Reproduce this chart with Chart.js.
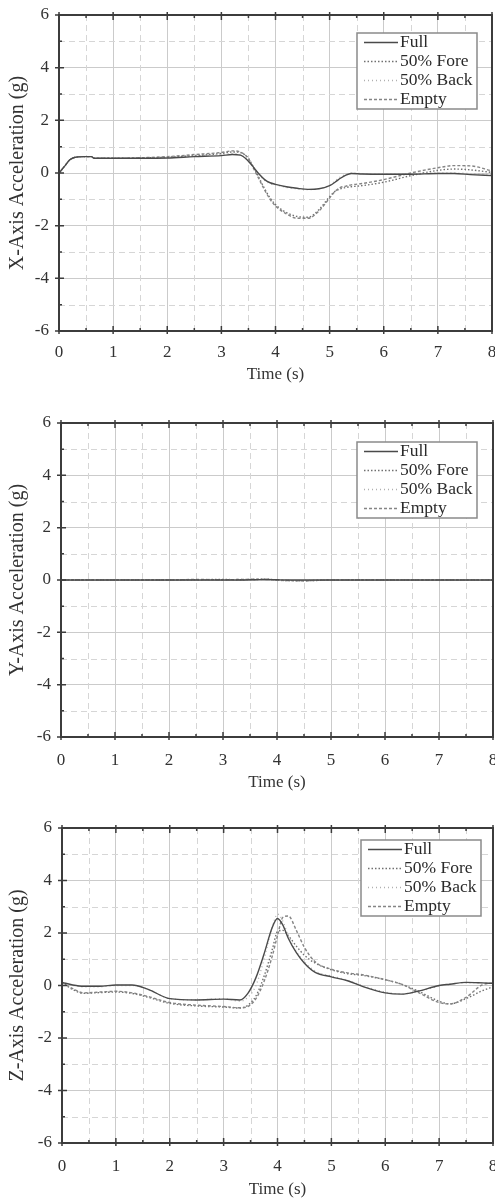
<!DOCTYPE html>
<html>
<head>
<meta charset="utf-8">
<script src="https://cdn.jsdelivr.net/npm/chart.js@4.4.0/dist/chart.umd.min.js"></script>
<style>
  body { margin: 0; background: #fff; width: 495px; height: 1201px; position: relative; overflow: hidden; }
  canvas { position: absolute; left: 0; }
</style>
</head>
<body>
<canvas id="chartX"></canvas>
<canvas id="chartY"></canvas>
<canvas id="chartZ"></canvas>
<script>
'use strict'

// ---- data ----
const seriesNames = ['Full', '50% Fore', '50% Back', 'Empty'];
const xTicks = [0, 1, 2, 3, 4, 5, 6, 7, 8];
const yTicks = [-6, -4, -2, 0, 2, 4, 6];

// X-axis acceleration
const timeX = [0, 0.1, 0.2, 0.3, 0.45, 0.6, 0.65, 1, 1.5, 2, 2.5, 3, 3.2, 3.35, 3.5, 3.6, 3.7, 3.8, 3.9, 4.0, 4.2, 4.4, 4.6, 4.8, 5.0, 5.1, 5.2, 5.3, 5.4, 5.6, 6, 6.5, 7, 7.3, 7.6, 8];
const xFull = [0, 0.25, 0.5, 0.6, 0.62, 0.62, 0.56, 0.56, 0.56, 0.57, 0.62, 0.66, 0.7, 0.68, 0.45, 0.2, -0.05, -0.25, -0.37, -0.43, -0.52, -0.58, -0.62, -0.6, -0.48, -0.35, -0.2, -0.08, -0.02, -0.04, -0.05, -0.05, -0.02, -0.02, -0.06, -0.1];
const xFore = [0, 0.25, 0.5, 0.6, 0.62, 0.62, 0.56, 0.56, 0.57, 0.6, 0.66, 0.74, 0.8, 0.78, 0.55, 0.2, -0.2, -0.6, -0.95, -1.2, -1.5, -1.65, -1.68, -1.4, -0.9, -0.7, -0.6, -0.55, -0.52, -0.48, -0.35, -0.1, 0.1, 0.15, 0.12, 0.02];
const xBack = [0, 0.25, 0.5, 0.6, 0.62, 0.62, 0.56, 0.56, 0.57, 0.58, 0.64, 0.7, 0.74, 0.7, 0.45, 0.18, -0.08, -0.28, -0.4, -0.45, -0.55, -0.6, -0.63, -0.6, -0.46, -0.3, -0.15, -0.05, 0, -0.02, -0.03, -0.02, 0, 0, -0.02, -0.05];
const xEmpty = [0, 0.25, 0.5, 0.6, 0.62, 0.62, 0.56, 0.56, 0.58, 0.62, 0.7, 0.78, 0.84, 0.8, 0.55, 0.15, -0.25, -0.65, -1.0, -1.25, -1.55, -1.72, -1.72, -1.45, -0.95, -0.7, -0.55, -0.5, -0.45, -0.4, -0.25, 0, 0.2, 0.28, 0.27, 0.08];

// Y-axis acceleration
const timeY = [0, 1, 2, 2.5, 3, 3.3, 3.6, 3.8, 4, 4.2, 4.5, 5, 6, 7, 8];
const yFull = [0, 0, 0, 0, 0, 0, 0.01, 0.02, 0.01, 0, 0, 0, 0, 0, 0];
const yFore = [0, 0, 0, 0.01, 0.02, 0.01, 0.02, 0.03, 0, -0.02, -0.03, 0, 0, 0, 0];
const yBack = [0, 0, 0, 0.01, 0.01, 0.02, 0.02, 0.01, -0.02, -0.03, -0.02, 0, 0, 0, 0];
const yEmpty = [0, 0, 0, 0.02, 0.01, 0.02, 0.03, 0.02, -0.01, -0.02, -0.03, 0, 0, 0, 0];

// Z-axis acceleration
const timeZ = [0, 0.2, 0.4, 0.7, 1, 1.3, 1.6, 2, 2.5, 3, 3.3, 3.45, 3.6, 3.75, 3.9, 4.0, 4.1, 4.2, 4.35, 4.5, 4.7, 5, 5.3, 5.6, 6, 6.3, 6.6, 7, 7.2, 7.5, 7.8, 8];
const zFull = [0.12, 0.02, -0.03, -0.03, 0.02, 0.02, -0.15, -0.5, -0.55, -0.52, -0.55, -0.3, 0.3, 1.2, 2.2, 2.55, 2.3, 1.8, 1.25, 0.85, 0.5, 0.33, 0.18, -0.05, -0.28, -0.33, -0.22, 0, 0.05, 0.12, 0.1, 0.08];
const zFore = [0.12, -0.15, -0.3, -0.27, -0.25, -0.3, -0.45, -0.68, -0.78, -0.82, -0.86, -0.75, -0.4, 0.35, 1.35, 2.05, 2.1, 1.9, 1.5, 1.15, 0.85, 0.6, 0.45, 0.38, 0.22, 0.05, -0.2, -0.6, -0.7, -0.5, -0.2, -0.05];
const zBack = [0.12, 0.0, -0.05, -0.05, 0.0, 0.0, -0.15, -0.5, -0.55, -0.5, -0.6, -0.45, 0.0, 1.0, 2.2, 2.72, 2.45, 1.9, 1.3, 0.9, 0.55, 0.36, 0.2, -0.02, -0.25, -0.32, -0.24, -0.02, 0.05, 0.1, 0.1, 0.08];
const zEmpty = [0.12, -0.12, -0.28, -0.25, -0.22, -0.28, -0.42, -0.65, -0.75, -0.8, -0.85, -0.8, -0.5, 0.15, 1.1, 1.9, 2.6, 2.65, 2.1, 1.45, 0.9, 0.62, 0.48, 0.4, 0.22, 0.05, -0.25, -0.65, -0.7, -0.45, 0.02, 0.1];

// ---- look ----
const FONT = 'Liberation Serif, Times New Roman, serif';
const lineStyles = [
    { color: '#4a4a4a', width: 1.4, dash: [] },
    { color: '#707070', width: 1.4, dash: [1.5, 2] },
    { color: '#b0b0b0', width: 1.3, dash: [1, 3] },
    { color: '#858585', width: 1.4, dash: [3, 2] },
];

// per-panel placement
const panels = [
    { id: 'chartX', title: 'X-Axis Acceleration (g)', top: 0, left: 59, right: 3, padTop: 15, plotH: 316, xh: 58, tickPad: 11, titlePad: 4, legTop: 18, legRight: 15, time: timeX, values: [xFull, xFore, xBack, xEmpty] },
    { id: 'chartY', title: 'Y-Axis Acceleration (g)', top: 408, left: 61, right: 2, padTop: 15, plotH: 314, xh: 58, tickPad: 13, titlePad: 2, legTop: 19, legRight: 16, time: timeY, values: [yFull, yFore, yBack, yEmpty] },
    { id: 'chartZ', title: 'Z-Axis Acceleration (g)', top: 813, left: 62, right: 2, padTop: 15, plotH: 315, xh: 58, tickPad: 13, titlePad: 1, legTop: 12, legRight: 12, time: timeZ, values: [zFull, zFore, zBack, zEmpty] },
];

const framePlugin = {
    id: 'frame',
    beforeDatasetsDraw(chart) {
        const ctx = chart.ctx;
        const a = chart.chartArea;
        const xs = chart.scales.x, ys = chart.scales.y;
        ctx.save();
        ctx.strokeStyle = '#d6d6d6';
        ctx.lineWidth = 1;
        ctx.setLineDash([6, 4]);
        for (let v = 0.5; v < 8; v += 1) {
            const px = Math.round(xs.getPixelForValue(v)) + 0.5;
            ctx.beginPath(); ctx.moveTo(px, a.top); ctx.lineTo(px, a.bottom); ctx.stroke();
        }
        for (let v = -5; v <= 5; v += 2) {
            const py = Math.round(ys.getPixelForValue(v)) + 0.5;
            ctx.beginPath(); ctx.moveTo(a.left, py); ctx.lineTo(a.right, py); ctx.stroke();
        }
        ctx.restore();
    },
    afterDraw(chart, args, opts) {
        const ctx = chart.ctx;
        const a = chart.chartArea;
        const xs = chart.scales.x, ys = chart.scales.y;
        ctx.save();
        // frame
        ctx.strokeStyle = '#3c3c3c';
        ctx.lineWidth = 2;
        ctx.strokeRect(a.left, a.top, a.right - a.left, a.bottom - a.top);
        // tick marks
        ctx.lineWidth = 1.5;
        ctx.beginPath();
        for (let v = 0; v <= 8; v += 0.5) {
            const px = xs.getPixelForValue(v);
            const major = v % 1 === 0;
            ctx.moveTo(px, a.bottom + (major ? 3 : 0)); ctx.lineTo(px, a.bottom - (major ? 5 : 3));
            ctx.moveTo(px, a.top - (major ? 3 : 0)); ctx.lineTo(px, a.top + (major ? 5 : 3));
        }
        for (let v = -6; v <= 6; v += 1) {
            const py = ys.getPixelForValue(v);
            const major = v % 2 === 0;
            ctx.moveTo(a.left - (major ? 4 : 0), py); ctx.lineTo(a.left + (major ? 5 : 3), py);
        }
        ctx.stroke();

        // legend box
        const w = 120, h = 76;
        const bx = a.right - opts.legRight - w;
        const by = a.top + opts.legTop;
        ctx.fillStyle = '#fff';
        ctx.fillRect(bx, by, w, h);
        ctx.strokeStyle = '#8a8a8a';
        ctx.lineWidth = 1.5;
        ctx.strokeRect(bx, by, w, h);
        ctx.font = '17.5px ' + FONT;
        ctx.textBaseline = 'middle';
        ctx.textAlign = 'left';
        chart.data.datasets.forEach((ds, i) => {
            const ry = by + 9.5 + i * 19;
            ctx.strokeStyle = ds.borderColor;
            ctx.lineWidth = ds.borderWidth;
            ctx.setLineDash(ds.borderDash);
            ctx.beginPath(); ctx.moveTo(bx + 7, ry); ctx.lineTo(bx + 41, ry); ctx.stroke();
            ctx.setLineDash([]);
            ctx.fillStyle = '#2a2a2a';
            ctx.fillText(ds.label, bx + 43, ry);
        });
        ctx.restore();
    }
};

function makeChart(p) {
    const canvas = document.getElementById(p.id);
    canvas.width = 495;
    canvas.height = p.padTop + p.plotH + p.xh;
    canvas.style.top = p.top + 'px';

    const datasets = seriesNames.map((name, i) => ({
        label: name,
        data: p.time.map((t, k) => ({ x: t, y: p.values[i][k] })),
        borderColor: lineStyles[i].color,
        borderWidth: lineStyles[i].width,
        borderDash: lineStyles[i].dash,
        pointRadius: 0,
        fill: false,
        cubicInterpolationMode: 'monotone',
        order: 4 - i,
    }));
    // Full gets the highest draw priority
    datasets[0].order = 0;

    return new Chart(canvas, {
        type: 'line',
        data: { datasets: datasets },
        options: {
            responsive: false,
            animation: false,
            devicePixelRatio: 1,
            layout: { padding: { top: p.padTop, left: 0, right: p.right, bottom: 0 } },
            plugins: {
                legend: { display: false },
                tooltip: { enabled: false },
                frame: { legTop: p.legTop, legRight: p.legRight },
            },
            scales: {
                x: {
                    type: 'linear', min: 0, max: 8,
                    afterBuildTicks(s) { s.ticks = xTicks.map(v => ({ value: v })); },
                    afterFit(s) { s.height = p.xh; s.paddingLeft = 0; s.paddingRight = 0; },
                    ticks: { color: '#333', font: { family: FONT, size: 17 }, padding: p.tickPad, maxRotation: 0, autoSkip: false },
                    grid: { color: '#cbcbcb', lineWidth: 1, drawTicks: false },
                    border: { display: false },
                    title: { display: true, text: 'Time (s)', color: '#333', font: { family: FONT, size: 17 }, padding: { top: 0, bottom: p.titlePad } },
                },
                y: {
                    type: 'linear', min: -6, max: 6,
                    afterBuildTicks(s) { s.ticks = yTicks.map(v => ({ value: v })); },
                    afterFit(s) { s.width = p.left; s.paddingTop = 0; s.paddingBottom = 0; },
                    ticks: { color: '#333', font: { family: FONT, size: 17 }, padding: 10, autoSkip: false },
                    grid: { color: '#cbcbcb', lineWidth: 1, drawTicks: false },
                    border: { display: false },
                    title: { display: true, text: p.title, color: '#333', font: { family: FONT, size: 20 }, padding: { top: 6, bottom: 0 } },
                },
            },
        },
        plugins: [framePlugin],
    });
}

panels.forEach(makeChart);
</script>
</body>
</html>
